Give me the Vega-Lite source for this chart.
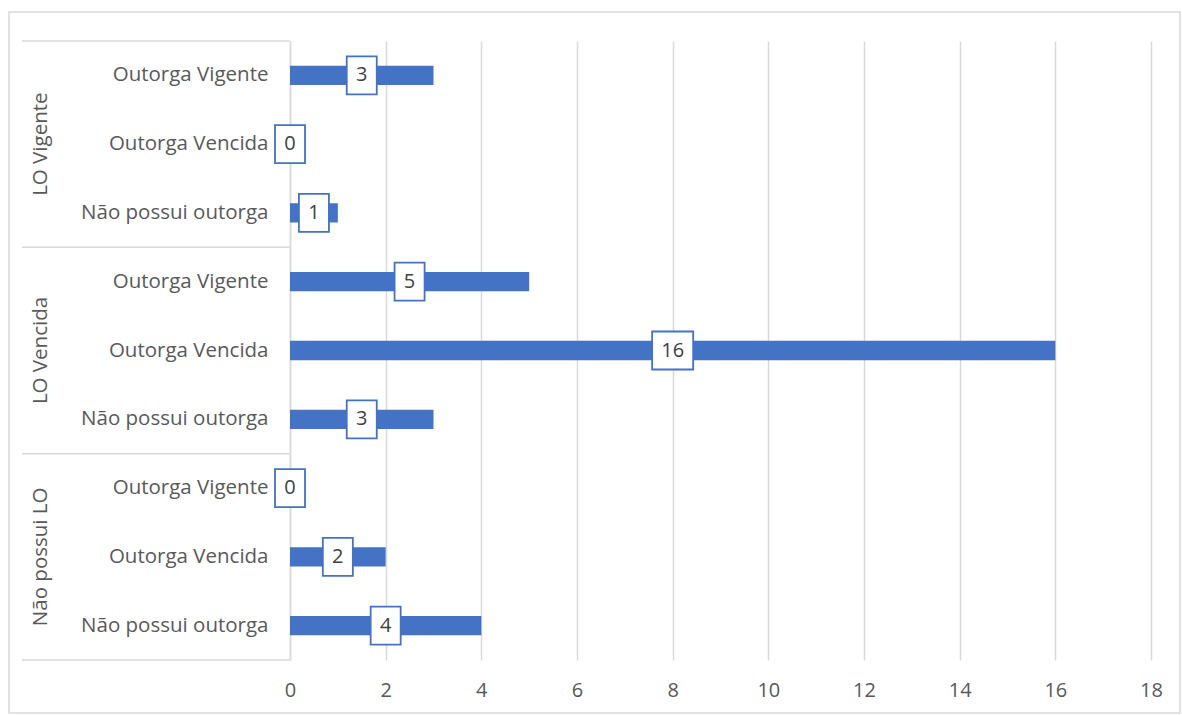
{
  "$schema": "https://vega.github.io/schema/vega-lite/v6.json",
  "width": 861,
  "height": 619,
  "autosize": "none",
  "padding": {"left": 290, "top": 41, "right": 31, "bottom": 55},
  "background": "white",
  "config": {"font": "Open Sans", "view": {"stroke": null}},
  "data": {"values": [
    {"group": "LO Vigente", "item": "Outorga Vigente", "key": "LO Vigente|Outorga Vigente", "value": 3},
    {"group": "LO Vigente", "item": "Outorga Vencida", "key": "LO Vigente|Outorga Vencida", "value": 0},
    {"group": "LO Vigente", "item": "Não possui outorga", "key": "LO Vigente|Não possui outorga", "value": 1},
    {"group": "LO Vencida", "item": "Outorga Vigente", "key": "LO Vencida|Outorga Vigente", "value": 5},
    {"group": "LO Vencida", "item": "Outorga Vencida", "key": "LO Vencida|Outorga Vencida", "value": 16},
    {"group": "LO Vencida", "item": "Não possui outorga", "key": "LO Vencida|Não possui outorga", "value": 3},
    {"group": "Não possui LO", "item": "Outorga Vigente", "key": "Não possui LO|Outorga Vigente", "value": 0},
    {"group": "Não possui LO", "item": "Outorga Vencida", "key": "Não possui LO|Outorga Vencida", "value": 2},
    {"group": "Não possui LO", "item": "Não possui outorga", "key": "Não possui LO|Não possui outorga", "value": 4}
  ]},
  "layer": [
    {
      "data": {"values": [{"frame": "chart"}]},
      "mark": {"type": "rect", "fill": null, "stroke": "#d9d9d9", "strokeWidth": 1.5},
      "encoding": {
        "x": {"datum": -5.875, "type": "quantitative", "scale": {"domain": [0, 18]}, "title": null},
        "x2": {"datum": 18.606},
        "y": {"datum": 1.0468, "type": "quantitative", "scale": {"domain": [0, 1]}, "axis": null},
        "y2": {"datum": -0.0856}
      }
    },
    {
      "encoding": {
        "y": {
          "field": "key", "type": "nominal", "sort": null,
          "scale": {"domain": [
            "LO Vigente|Outorga Vigente", "LO Vigente|Outorga Vencida", "LO Vigente|Não possui outorga",
            "LO Vencida|Outorga Vigente", "LO Vencida|Outorga Vencida", "LO Vencida|Não possui outorga",
            "Não possui LO|Outorga Vigente", "Não possui LO|Outorga Vencida", "Não possui LO|Não possui outorga"
          ], "paddingInner": 0, "paddingOuter": 0},
          "axis": {
            "title": null, "ticks": false, "tickSize": 0, "grid": false,
            "domainColor": "#d9d9d9", "domainWidth": 1.5,
            "labelExpr": "split(datum.label, '|')[1]", "labelLimit": 400,
            "labelPadding": 22, "labelFontSize": 20.5, "labelColor": "#595959", "labelFont": "Open Sans"
          }
        }
      },
      "layer": [
        {
          "mark": {"type": "bar", "color": "#4472C4", "height": {"band": 0.28}},
          "encoding": {
            "x": {
              "field": "value", "type": "quantitative", "scale": {"domain": [0, 18]}, "title": null,
              "axis": {
                "title": null, "values": [0, 2, 4, 6, 8, 10, 12, 14, 16, 18],
                "grid": true, "gridColor": "#d9d9d9", "gridWidth": 1.5,
                "domain": false, "ticks": false, "tickSize": 0, "labelFlush": false,
                "labelPadding": 20, "labelFontSize": 20, "labelColor": "#595959", "labelFont": "Open Sans"
              }
            }
          }
        },
        {
          "transform": [{"filter": "datum.item == 'Outorga Vigente'"}],
          "mark": {"type": "rule", "color": "#d9d9d9", "strokeWidth": 1.5},
          "encoding": {
            "x": {"datum": -5.603, "type": "quantitative", "scale": {"domain": [0, 18]}, "title": null},
            "x2": {"datum": 0},
            "y": {"field": "key", "type": "nominal", "bandPosition": 0}
          }
        },
        {
          "transform": [{"filter": "datum.key == 'Não possui LO|Não possui outorga'"}],
          "mark": {"type": "rule", "color": "#d9d9d9", "strokeWidth": 1.5},
          "encoding": {
            "x": {"datum": -5.603, "type": "quantitative", "scale": {"domain": [0, 18]}, "title": null},
            "x2": {"datum": 0},
            "y": {"field": "key", "type": "nominal", "bandPosition": 1}
          }
        },
        {
          "transform": [{"filter": "datum.item == 'Outorga Vencida'"}],
          "mark": {"type": "text", "angle": 270, "align": "center", "baseline": "middle", "fontSize": 20.5, "color": "#595959", "font": "Open Sans"},
          "encoding": {
            "x": {"datum": -5.206, "type": "quantitative", "scale": {"domain": [0, 18]}, "title": null},
            "text": {"field": "group"}
          }
        },
        {
          "transform": [{"calculate": "datum.value / 2", "as": "mid"}],
          "mark": {"type": "point", "filled": false, "fill": "white", "fillOpacity": 1, "stroke": "#4472C4", "strokeWidth": 1.8, "opacity": 1, "size": 1444},
          "encoding": {
            "x": {"field": "mid", "type": "quantitative", "scale": {"domain": [0, 18]}, "title": null},
            "shape": {
              "condition": {"test": "datum.value >= 10", "value": "M-1.08,-1L1.08,-1L1.08,1L-1.08,1Z"},
              "value": "M-0.79,-1L0.79,-1L0.79,1L-0.79,1Z"
            }
          }
        },
        {
          "transform": [{"calculate": "datum.value / 2", "as": "mid"}],
          "mark": {"type": "text", "align": "center", "baseline": "middle", "fontSize": 20, "color": "#404040", "font": "Open Sans"},
          "encoding": {
            "x": {"field": "mid", "type": "quantitative", "scale": {"domain": [0, 18]}, "title": null},
            "text": {"field": "value"}
          }
        }
      ]
    }
  ],
  "resolve": {"scale": {"y": "independent"}}
}
